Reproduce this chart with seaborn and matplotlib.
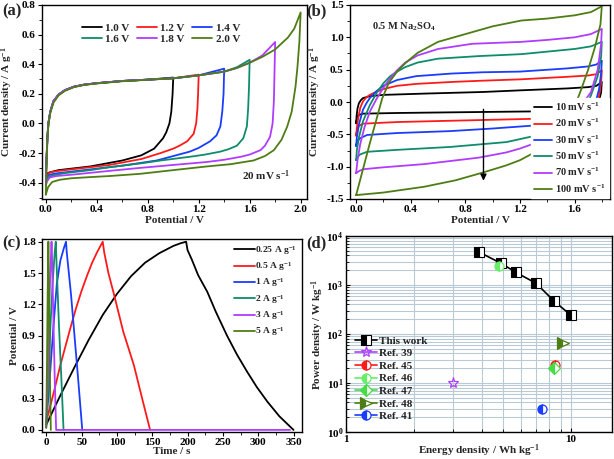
import numpy as np
import pandas as pd
import seaborn as sns
import matplotlib.pyplot as plt
from matplotlib.ticker import MultipleLocator, LogLocator, NullFormatter, FixedLocator, FixedFormatter

# ---------------- (a) CV at 20 mV/s, different voltage windows
a_labels = ["1.0 V", "1.2 V", "1.4 V", "1.6 V", "1.8 V", "2.0 V"]
a_v_10 = [0.0, 0.005, 0.012, 0.02, 0.035, 0.06, 0.1, 0.15, 0.22, 0.3, 0.4, 0.6, 0.8, 1.0,
          0.995, 0.985, 0.97, 0.945, 0.92, 0.85, 0.75, 0.6, 0.35, 0.1, 0.03, 0.01, 0.0]
a_i_10 = [-0.35, -0.25, -0.1, 0.0, 0.08, 0.15, 0.195, 0.225, 0.248, 0.262, 0.272, 0.287, 0.296, 0.31,
          0.2, 0.08, 0.0, -0.06, -0.1, -0.17, -0.215, -0.25, -0.29, -0.315, -0.33, -0.338, -0.35]
a_v_12 = [0.0, 0.005, 0.012, 0.02, 0.035, 0.06, 0.1, 0.15, 0.22, 0.3, 0.4, 0.6, 0.8, 1.0, 1.2,
          1.195, 1.19, 1.18, 1.16, 1.11, 1.05, 1.0, 0.9, 0.75, 0.5, 0.3, 0.1, 0.03, 0.0]
a_i_12 = [-0.36, -0.25, -0.1, 0.0, 0.08, 0.15, 0.195, 0.225, 0.248, 0.262, 0.272, 0.287, 0.296, 0.305, 0.33,
          0.2, 0.1, 0.0, -0.07, -0.12, -0.15, -0.17, -0.2, -0.24, -0.28, -0.3, -0.32, -0.33, -0.36]
a_v_14 = [0.0, 0.005, 0.012, 0.02, 0.035, 0.06, 0.1, 0.15, 0.22, 0.3, 0.4, 0.6, 0.8, 1.0, 1.2, 1.4,
          1.395, 1.385, 1.37, 1.34, 1.29, 1.2, 1.13, 1.0, 0.87, 0.6, 0.35, 0.1, 0.03, 0.0]
a_i_14 = [-0.37, -0.26, -0.1, 0.0, 0.08, 0.15, 0.195, 0.225, 0.248, 0.262, 0.272, 0.287, 0.296, 0.305, 0.325, 0.37,
          0.2, 0.08, -0.02, -0.08, -0.12, -0.165, -0.19, -0.22, -0.25, -0.285, -0.31, -0.335, -0.345, -0.37]
a_v_16 = [0.0, 0.005, 0.012, 0.02, 0.035, 0.06, 0.1, 0.15, 0.22, 0.3, 0.4, 0.6, 0.8, 1.0, 1.2, 1.4, 1.5, 1.6,
          1.595, 1.588, 1.578, 1.55, 1.5, 1.43, 1.37, 1.25, 1.13, 0.9, 0.74, 0.5, 0.35, 0.15, 0.06, 0.02, 0.0]
a_i_16 = [-0.39, -0.27, -0.1, 0.0, 0.08, 0.15, 0.195, 0.225, 0.248, 0.262, 0.272, 0.287, 0.296, 0.305, 0.325, 0.35, 0.38, 0.43,
          0.25, 0.1, -0.02, -0.1, -0.15, -0.175, -0.19, -0.21, -0.225, -0.25, -0.27, -0.295, -0.315, -0.335, -0.35, -0.36, -0.39]
a_v_18 = [0.0, 0.005, 0.012, 0.02, 0.035, 0.06, 0.1, 0.15, 0.22, 0.3, 0.4, 0.6, 0.8, 1.0, 1.2, 1.4, 1.5, 1.6, 1.7, 1.8,
          1.795, 1.79, 1.78, 1.76, 1.72, 1.685, 1.6, 1.53, 1.4, 1.265, 1.0, 0.74, 0.5, 0.215, 0.08, 0.03, 0.01, 0.0]
a_i_18 = [-0.42, -0.28, -0.1, 0.0, 0.08, 0.15, 0.195, 0.225, 0.248, 0.262, 0.272, 0.287, 0.296, 0.305, 0.325, 0.35, 0.375, 0.41, 0.46, 0.55,
          0.35, 0.15, 0.0, -0.09, -0.15, -0.18, -0.21, -0.225, -0.245, -0.26, -0.28, -0.3, -0.32, -0.345, -0.355, -0.365, -0.39, -0.42]
a_v_20 = [0.0, 0.005, 0.012, 0.02, 0.035, 0.06, 0.1, 0.15, 0.22, 0.3, 0.4, 0.6, 0.8, 1.0, 1.2, 1.4, 1.5, 1.6, 1.7, 1.8, 1.9, 1.95, 2.0,
          1.99, 1.975, 1.96, 1.93, 1.895, 1.85, 1.79, 1.72, 1.63, 1.45, 1.265, 1.0, 0.74, 0.5, 0.35, 0.2, 0.11, 0.05, 0.018, 0.0]
a_i_20 = [-0.48, -0.3, -0.12, -0.01, 0.07, 0.14, 0.19, 0.22, 0.245, 0.26, 0.27, 0.285, 0.295, 0.305, 0.325, 0.35, 0.375, 0.41, 0.45, 0.5, 0.58, 0.64, 0.75,
          0.55, 0.38, 0.25, 0.08, -0.02, -0.11, -0.18, -0.22, -0.25, -0.275, -0.29, -0.315, -0.34, -0.355, -0.362, -0.37, -0.38, -0.395, -0.43, -0.48]

# ---------------- (b) CV in 0.5 M Na2SO4 at different scan rates
b_labels = ["10 mV s$^{-1}$", "20 mV s$^{-1}$", "30 mV s$^{-1}$", "50 mV s$^{-1}$", "70 mV s$^{-1}$", "100 mV s$^{-1}$"]
b_v_10 = [0.0, 0.003, 0.01, 0.02, 0.035, 0.05, 0.1, 0.2, 0.5, 0.93, 1.2, 1.55, 1.7, 1.76, 1.8,
          1.795, 1.78, 1.75, 1.65, 1.5, 1.36, 0.69, 0.3, 0.05, 0.02, 0.008, 0.0]
b_i_10 = [-0.33, -0.22, -0.1, -0.02, 0.03, 0.06, 0.09, 0.11, 0.13, 0.155, 0.18, 0.21, 0.23, 0.25, 0.31,
          0.15, 0.02, -0.08, -0.12, -0.135, -0.144, -0.16, -0.17, -0.18, -0.2, -0.25, -0.33]
b_v_20 = [0.0, 0.005, 0.015, 0.03, 0.05, 0.075, 0.1, 0.15, 0.2, 0.3, 0.44, 0.7, 0.93, 1.2, 1.55, 1.7, 1.76, 1.8,
          1.795, 1.78, 1.745, 1.65, 1.5, 1.36, 0.69, 0.3, 0.05, 0.02, 0.008, 0.0]
b_i_20 = [-0.52, -0.4, -0.25, -0.09, 0.01, 0.07, 0.11, 0.16, 0.2, 0.25, 0.28, 0.31, 0.33, 0.35, 0.39, 0.41, 0.43, 0.49,
          0.3, 0.1, -0.08, -0.18, -0.23, -0.257, -0.29, -0.31, -0.335, -0.37, -0.43, -0.52]
b_v_30 = [0.0, 0.005, 0.02, 0.05, 0.075, 0.1, 0.15, 0.2, 0.3, 0.44, 0.7, 0.93, 1.2, 1.55, 1.7, 1.76, 1.8,
          1.795, 1.78, 1.755, 1.71, 1.6, 1.5, 1.36, 1.0, 0.69, 0.3, 0.08, 0.03, 0.01, 0.0]
b_i_30 = [-0.68, -0.55, -0.35, -0.12, -0.02, 0.06, 0.17, 0.25, 0.34, 0.4, 0.44, 0.46, 0.47, 0.52, 0.55, 0.58, 0.64,
          0.45, 0.2, 0.0, -0.08, -0.22, -0.3, -0.355, -0.41, -0.45, -0.48, -0.51, -0.56, -0.6, -0.68]
b_v_50 = [0.0, 0.005, 0.02, 0.05, 0.1, 0.15, 0.2, 0.25, 0.3, 0.36, 0.45, 0.6, 0.9, 1.21, 1.6, 1.72, 1.8,
          1.795, 1.77, 1.72, 1.68, 1.6, 1.5, 1.36, 1.1, 0.69, 0.3, 0.08, 0.03, 0.01, 0.0]
b_i_50 = [-0.9, -0.75, -0.55, -0.3, -0.05, 0.14, 0.29, 0.4, 0.47, 0.54, 0.61, 0.67, 0.71, 0.74, 0.82, 0.86, 0.93,
          0.7, 0.4, 0.1, -0.08, -0.25, -0.4, -0.5, -0.62, -0.695, -0.74, -0.77, -0.81, -0.85, -0.9]
b_v_70 = [0.0, 0.01, 0.03, 0.06, 0.1, 0.15, 0.2, 0.25, 0.3, 0.36, 0.45, 0.6, 0.85, 1.21, 1.4, 1.6, 1.72, 1.8,
          1.795, 1.77, 1.72, 1.64, 1.55, 1.45, 1.36, 1.2, 1.1, 0.9, 0.5, 0.2, 0.05, 0.02, 0.0]
b_i_70 = [-1.1, -0.9, -0.65, -0.4, -0.15, 0.05, 0.22, 0.37, 0.49, 0.61, 0.72, 0.82, 0.9, 0.93, 0.96, 1.0, 1.05, 1.13,
          0.9, 0.5, 0.15, -0.08, -0.3, -0.48, -0.6, -0.72, -0.78, -0.86, -0.96, -1.01, -1.04, -1.07, -1.1]
b_v_100 = [0.0, 0.05, 0.1, 0.15, 0.19, 0.24, 0.3, 0.36, 0.45, 0.6, 0.85, 1.0, 1.21, 1.4, 1.6, 1.72, 1.8,
           1.79, 1.75, 1.7, 1.65, 1.6, 1.5, 1.36, 1.2, 1.1, 0.93, 0.73, 0.5, 0.2, 0.05, 0.0]
b_i_100 = [-1.44, -1.04, -0.64, -0.26, 0.05, 0.3, 0.47, 0.6, 0.76, 0.93, 1.08, 1.17, 1.26, 1.29, 1.34, 1.39, 1.48,
           1.2, 0.85, 0.5, 0.2, -0.08, -0.45, -0.72, -0.9, -0.98, -1.09, -1.21, -1.31, -1.4, -1.43, -1.44]

# ---------------- (c) GCD curves
c_labels = ["0.25 A g$^{-1}$", "0.5 A g$^{-1}$", "1 A g$^{-1}$", "2 A g$^{-1}$", "3 A g$^{-1}$", "5 A g$^{-1}$"]
c_t_025 = [0, 10, 20, 40, 60, 80, 100, 120, 140, 160, 180, 190, 198, 200, 206, 215, 228, 240, 256, 270, 284, 298, 313, 330, 350]
c_u_025 = [0.05, 0.19, 0.33, 0.6, 0.86, 1.1, 1.3, 1.47, 1.6, 1.69, 1.76, 1.785, 1.8, 1.72, 1.63, 1.48, 1.32, 1.13, 0.9, 0.72, 0.56, 0.41, 0.27, 0.13, 0.0]
c_t_05 = [0, 10, 20, 34, 42, 50, 58, 65, 72, 80, 82, 88, 95, 109, 124, 138, 147]
c_u_05 = [0.08, 0.34, 0.62, 0.97, 1.16, 1.33, 1.48, 1.6, 1.7, 1.8, 1.7, 1.5, 1.32, 0.94, 0.62, 0.24, 0.0]
c_t_1 = [0, 5, 10, 15, 20, 25, 28, 29, 35, 40, 45, 51]
c_u_1 = [0.05, 0.5, 0.97, 1.4, 1.62, 1.74, 1.8, 1.7, 1.3, 0.9, 0.5, 0.0]
c_t_2 = [0, 3, 6, 9, 12, 13.5, 14, 18, 22, 24.5]
c_u_2 = [0.03, 0.5, 1.0, 1.4, 1.7, 1.8, 1.7, 1.0, 0.4, 0.0]
c_t_3 = [0, 2, 4, 6, 7.5, 8, 10, 12, 14, 345]
c_u_3 = [0.02, 0.5, 1.1, 1.55, 1.8, 1.7, 1.1, 0.5, 0.0, 0.0]
c_t_5 = [0, 1, 2, 3, 4, 5, 6.5]
c_u_5 = [0.02, 0.6, 1.3, 1.8, 1.3, 0.6, 0.0]

# ---------------- (d) Ragone plot
d_this_e = [3.9, 4.9, 5.7, 7.0, 8.4, 10.0]
d_this_p = [4700, 2750, 1800, 1080, 470, 240]
d_ref_labels = ["Ref. 39", "Ref. 45", "Ref. 46", "Ref. 47", "Ref. 48", "Ref. 41"]
d_ref_e = [3.0, 8.5, 4.8, 8.4, 9.25, 7.4]
d_ref_p = [10, 23, 2400, 20, 66, 3]

black, red, blue, teal, purple, olive = "#000000", "#ff1a1a", "#1a3cff", "#0e8c6b", "#b03cff", "#4e7d14"
colors = [black, red, blue, teal, purple, olive]

sns.set_style("ticks")
plt.rcParams["font.family"] = ["Liberation Serif", "DejaVu Serif"]
plt.rcParams["font.weight"] = "bold"
plt.rcParams["axes.labelweight"] = "bold"
plt.rcParams["mathtext.fontset"] = "custom"
plt.rcParams["mathtext.rm"] = "Liberation Serif:bold"
plt.rcParams["mathtext.it"] = "Liberation Serif:bold"
plt.rcParams["mathtext.bf"] = "Liberation Serif:bold"
plt.rcParams["axes.edgecolor"] = "black"
plt.rcParams["axes.linewidth"] = 1.0
plt.rcParams["xtick.color"] = "black"
plt.rcParams["ytick.color"] = "black"

fig = plt.figure(figsize=(6.14, 4.59), dpi=100)
W, H = 614, 459
def box(l, t, r, b):
    return [l / W, 1 - b / H, (r - l) / W, (b - t) / H]

ax_a = fig.add_axes(box(42, 5, 307, 199))
ax_b = fig.add_axes(box(350, 5, 610, 199))
ax_c = fig.add_axes(box(42, 239, 302, 432))
ax_d = fig.add_axes(box(346, 236, 612, 432))

FS = 8
LW = 1.3

def style_ax(ax):
    for s in ax.spines.values():
        s.set_visible(True)
        s.set_color("black")
        s.set_linewidth(1.0)
    ax.tick_params(which="major", length=3, width=0.8, labelsize=FS, pad=1.5)
    ax.tick_params(which="minor", length=2, width=0.6)

# (a)
a_v = [a_v_10, a_v_12, a_v_14, a_v_16, a_v_18, a_v_20]
a_i = [a_i_10, a_i_12, a_i_14, a_i_16, a_i_18, a_i_20]
for v, i, c, lab in zip(a_v, a_i, colors, a_labels):
    sns.lineplot(x=v, y=i, sort=False, estimator=None, color=c, lw=LW, label=lab, ax=ax_a)
ax_a.set_xlim(-0.03, 2.05)
ax_a.set_ylim(-0.51, 0.8)
ax_a.xaxis.set_major_locator(MultipleLocator(0.4))
ax_a.xaxis.set_minor_locator(MultipleLocator(0.2))
ax_a.yaxis.set_major_locator(MultipleLocator(0.2))
ax_a.yaxis.set_minor_locator(MultipleLocator(0.1))
ax_a.xaxis.set_major_formatter(lambda x, p: f"{x:.1f}")
ax_a.yaxis.set_major_formatter(lambda x, p: f"{x:.1f}")
ax_a.set_xlabel("Potential / V", fontsize=FS, labelpad=1)
ax_a.set_ylabel("Current density / A g$^{-1}$", fontsize=FS, labelpad=2)
h, l = ax_a.get_legend_handles_labels()
order = [0, 3, 1, 4, 2, 5]
ax_a.legend([h[k] for k in order], [l[k] for k in order], ncol=3, frameon=False, fontsize=FS,
            loc="upper left", bbox_to_anchor=(0.12, 0.945),
            handlelength=1.8, handletextpad=0.3, columnspacing=0.7, labelspacing=0.1, borderpad=0.2)
ax_a.text(0.755, 0.1, "20 mV s$^{-1}$", transform=ax_a.transAxes, fontsize=FS, fontweight="bold")
style_ax(ax_a)

# (b)
b_v = [b_v_10, b_v_20, b_v_30, b_v_50, b_v_70, b_v_100]
b_i = [b_i_10, b_i_20, b_i_30, b_i_50, b_i_70, b_i_100]
for v, i, c, lab in zip(b_v, b_i, colors, b_labels):
    sns.lineplot(x=v, y=i, sort=False, estimator=None, color=c, lw=LW, label=lab, ax=ax_b)
ax_b.set_xlim(-0.045, 1.86)
ax_b.set_ylim(-1.5, 1.5)
ax_b.xaxis.set_major_locator(MultipleLocator(0.4))
ax_b.xaxis.set_minor_locator(MultipleLocator(0.2))
ax_b.yaxis.set_major_locator(MultipleLocator(0.5))
ax_b.yaxis.set_minor_locator(MultipleLocator(0.25))
ax_b.xaxis.set_major_formatter(lambda x, p: f"{x:.1f}")
ax_b.yaxis.set_major_formatter(lambda x, p: f"{x:.1f}")
ax_b.set_xlabel("Potential / V", fontsize=FS, labelpad=1)
ax_b.set_ylabel("Current density / A g$^{-1}$", fontsize=FS, labelpad=2)
leg_b = ax_b.legend(frameon=True, fontsize=7.5, loc="lower right", handlelength=1.75, handletextpad=0.3,
                    labelspacing=0.38, borderpad=0.3, borderaxespad=0.1, framealpha=1, fancybox=False)
leg_b.get_frame().set_edgecolor("white")
leg_b.get_frame().set_facecolor("white")
ax_b.annotate("", xy=(0.933, -1.26), xytext=(0.933, -0.07),
              arrowprops=dict(arrowstyle="-|>", color="black", lw=1.0, mutation_scale=9))
ax_b.text(0.085, 0.875, "0.5 M Na$_2$SO$_4$", transform=ax_b.transAxes, fontsize=7.5, fontweight="bold")
style_ax(ax_b)

# (c)
c_t = [c_t_025, c_t_05, c_t_1, c_t_2, c_t_3, c_t_5]
c_u = [c_u_025, c_u_05, c_u_1, c_u_2, c_u_3, c_u_5]
for t, u, c, lab in zip(c_t, c_u, colors, c_labels):
    sns.lineplot(x=t, y=u, sort=False, estimator=None, color=c, lw=LW, label=lab, ax=ax_c)
ax_c.set_xlim(-6, 362)
ax_c.set_ylim(-0.02, 1.826)
ax_c.xaxis.set_major_locator(MultipleLocator(50))
ax_c.xaxis.set_minor_locator(MultipleLocator(25))
ax_c.yaxis.set_major_locator(MultipleLocator(0.3))
ax_c.yaxis.set_minor_locator(MultipleLocator(0.15))
ax_c.yaxis.set_major_formatter(lambda x, p: f"{x:.1f}")
ax_c.set_xlabel("Time / s", fontsize=FS, labelpad=0)
ax_c.set_ylabel("Potential / V", fontsize=FS, labelpad=2)
ax_c.legend(frameon=False, fontsize=6.8, loc="upper right", handlelength=2.2, handletextpad=0.1,
            labelspacing=0.35, borderpad=0.3, borderaxespad=0.2)
style_ax(ax_c)

# (d)
ax_d.set_axisbelow(True)
sns.lineplot(x=d_this_e, y=d_this_p, sort=False, estimator=None, color="black", lw=1.2, ax=ax_d,
             marker="s", markersize=6.5, fillstyle="left", mfc="black", mfcalt="white", mec="black",
             mew=0.8, label="This work")
ref_markers = ["*", "o", "o", "D", ">", "o"]
ref_colors = ["#b040ff", "#ff1a1a", "#66ee66", "#44dd44", "#4e7d14", "#1a3cff"]
ref_fill = ["none", "left", "left", "left", "left", "left"]
for e, p, m, c, f, lab in zip(d_ref_e, d_ref_p, ref_markers, ref_colors, ref_fill, d_ref_labels):
    sns.lineplot(x=[e], y=[p], color=c, lw=1.2, marker=m, markersize=8 if m in "*>" else 6.5,
                 fillstyle=f, mfc=c, mfcalt="white", mec=c, mew=0.9, label=lab, ax=ax_d)
ax_d.set_xscale("log")
ax_d.set_yscale("log")
ax_d.set_xlim(1, 15.2)
ax_d.set_ylim(1, 1e4)
ax_d.yaxis.set_major_locator(LogLocator(base=10, numticks=10))
ax_d.yaxis.set_minor_locator(LogLocator(base=10, subs=np.arange(2, 10), numticks=20))
ax_d.yaxis.set_minor_formatter(NullFormatter())
ax_d.xaxis.set_major_locator(FixedLocator([1, 10]))
ax_d.xaxis.set_major_formatter(FixedFormatter(["1", "10"]))
ax_d.xaxis.set_minor_locator(FixedLocator([2, 3, 4, 5, 6, 7, 8, 9]))
ax_d.xaxis.set_minor_formatter(NullFormatter())
ax_d.grid(True, which="both", color="#b9c9d6", lw=0.8)
ax_d.set_xlabel("Energy density / Wh kg$^{-1}$", fontsize=FS, labelpad=-1)
ax_d.set_ylabel("Power density / W kg$^{-1}$", fontsize=FS, labelpad=0)
ax_d.legend(frameon=False, fontsize=FS, loc="lower left", handlelength=2.0, handletextpad=0.2,
            labelspacing=0.25, borderpad=0.3, borderaxespad=0.5, bbox_to_anchor=(0.0, 0.01))
style_ax(ax_d)
ax_d.tick_params(which="both", direction="in", pad=2)

for lab, x, y in [("(a)", 2, 3), ("(b)", 306, 3), ("(c)", 2, 235), ("(d)", 306, 235)]:
    fig.text(x / W, 1 - y / H, lab, fontsize=12, fontweight="bold", va="top", ha="left")

fig.savefig("out.png", dpi=100)
